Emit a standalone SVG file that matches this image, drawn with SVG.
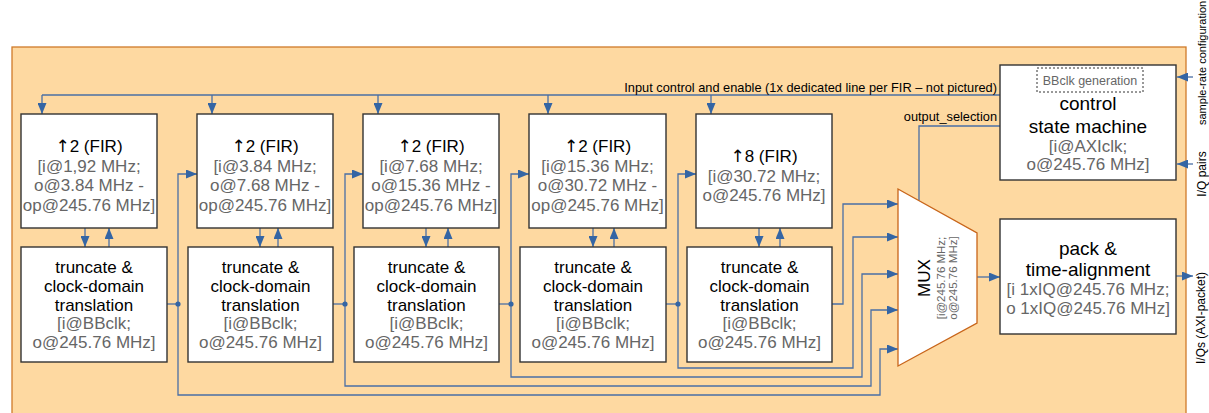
<svg xmlns="http://www.w3.org/2000/svg" width="1209" height="413" viewBox="0 0 1209 413">
<defs>
<style>
text{font-family:"Liberation Sans",Arial,sans-serif;}
.box{fill:#ffffff;stroke:#333333;stroke-width:1.4;}
.t{font-size:17px;fill:#000;text-anchor:middle;}
.ar{font-family:"DejaVu Sans",sans-serif;font-weight:normal;}
.tb{font-size:19px;fill:#000;text-anchor:middle;}
.g{font-size:17px;fill:#666666;text-anchor:middle;}
.s{font-size:12px;fill:#000;}
.sl{font-size:12.8px;fill:#000;text-anchor:end;}
.w{fill:none;stroke:#4a6fa5;stroke-width:1.3;}
.a{fill:none;stroke:#4a6fa5;stroke-width:1.3;marker-end:url(#ah);}
.dot{fill:#3465a4;}
</style>
<marker id="ah" viewBox="0 0 11 9" refX="11" refY="4.5" markerWidth="11" markerHeight="9" markerUnits="userSpaceOnUse" orient="auto">
<path d="M0,0 L11,4.5 L0,9 z" fill="#3465a4"/>
</marker>
</defs>
<rect x="12" y="47" width="1174" height="380" fill="#fed9a1" stroke="#cf7a2a" stroke-width="1.3"/>

<g id="connectors">
<path class="w" d="M1000,95 H42"/>
<path class="a" d="M42,95 V114"/>
<path class="a" d="M212,95 V114"/>
<path class="a" d="M378,95 V114"/>
<path class="a" d="M548,95 V114"/>
<path class="a" d="M711,95 V114"/>
<path class="w" d="M1000,126 H919 V200.5"/>
<path class="a" d="M85,228 V247"/><path class="a" d="M109,247 V228"/>
<path class="a" d="M260,228 V247"/><path class="a" d="M278,247 V228"/>
<path class="a" d="M426,228 V247"/><path class="a" d="M448,247 V228"/>
<path class="a" d="M593,228 V247"/><path class="a" d="M614,247 V228"/>
<path class="a" d="M759,228 V247"/><path class="a" d="M780,247 V228"/>
<path class="w" d="M167,304 H178"/>
<path class="w" d="M333,304 H345"/>
<path class="w" d="M499,304 H511"/>
<path class="w" d="M666,304 H678"/>
<path class="a" d="M178,304 V174 H197"/>
<path class="a" d="M345,304 V174 H363"/>
<path class="a" d="M511,304 V174 H529"/>
<path class="a" d="M678,304 V174 H696"/>
<path class="a" d="M832,304 H843 V204 H898"/>
<path class="a" d="M678,304 V368 H853 V237 H898"/>
<path class="a" d="M511,304 V377 H862 V274 H898"/>
<path class="a" d="M345,304 V386 H871 V310 H898"/>
<path class="a" d="M178,304 V395 H880 V349 H898"/>
<circle class="dot" cx="178" cy="304" r="2.6"/>
<circle class="dot" cx="345" cy="304" r="2.6"/>
<circle class="dot" cx="511" cy="304" r="2.6"/>
<circle class="dot" cx="678" cy="304" r="2.6"/>
<path class="a" d="M977,277 H1000"/>
<path class="a" d="M1193,77 H1177"/>
<path class="a" d="M1193,164 H1177"/>
<path class="a" d="M1176,276 H1193"/>
</g>

<g id="fir1">
<rect class="box" x="21" y="114" width="136" height="114"/>
<text class="t" x="89" y="152"><tspan class="ar">↑</tspan>2 (FIR)</text>
<text class="g" x="89" y="171.5">[i@1,92 MHz;</text>
<text class="g" x="89" y="191">o@3.84 MHz -</text>
<text class="g" x="89" y="210.5">op@245.76 MHz]</text>
</g>
<g id="fir2">
<rect class="box" x="197" y="114" width="136" height="114"/>
<text class="t" x="265" y="152"><tspan class="ar">↑</tspan>2 (FIR)</text>
<text class="g" x="265" y="171.5">[i@3.84 MHz;</text>
<text class="g" x="265" y="191">o@7.68 MHz -</text>
<text class="g" x="265" y="210.5">op@245.76 MHz]</text>
</g>
<g id="fir3">
<rect class="box" x="363" y="114" width="136" height="114"/>
<text class="t" x="431" y="152"><tspan class="ar">↑</tspan>2 (FIR)</text>
<text class="g" x="431" y="171.5">[i@7.68 MHz;</text>
<text class="g" x="431" y="191">o@15.36 MHz -</text>
<text class="g" x="431" y="210.5">op@245.76 MHz]</text>
</g>
<g id="fir4">
<rect class="box" x="529" y="114" width="137" height="114"/>
<text class="t" x="597.5" y="152"><tspan class="ar">↑</tspan>2 (FIR)</text>
<text class="g" x="597.5" y="171.5">[i@15.36 MHz;</text>
<text class="g" x="597.5" y="191">o@30.72 MHz -</text>
<text class="g" x="597.5" y="210.5">op@245.76 MHz]</text>
</g>
<g id="fir5">
<rect class="box" x="696" y="114" width="136" height="114"/>
<text class="t" x="764" y="162"><tspan class="ar">↑</tspan>8 (FIR)</text>
<text class="g" x="764" y="182">[i@30.72 MHz;</text>
<text class="g" x="764" y="201">o@245.76 MHz]</text>
</g>

<g id="trunc1">
<rect class="box" x="21" y="247" width="146" height="115"/>
<text class="t" x="94" y="273">truncate &amp;</text>
<text class="t" x="94" y="292">clock-domain</text>
<text class="t" x="94" y="310.5">translation</text>
<text class="g" x="94" y="329">[i@BBclk;</text>
<text class="g" x="94" y="348">o@245.76 MHz]</text>
</g>
<g id="trunc2">
<rect class="box" x="188" y="247" width="145" height="115"/>
<text class="t" x="260.5" y="273">truncate &amp;</text>
<text class="t" x="260.5" y="292">clock-domain</text>
<text class="t" x="260.5" y="310.5">translation</text>
<text class="g" x="260.5" y="329">[i@BBclk;</text>
<text class="g" x="260.5" y="348">o@245.76 MHz]</text>
</g>
<g id="trunc3">
<rect class="box" x="354" y="247" width="145" height="115"/>
<text class="t" x="426.5" y="273">truncate &amp;</text>
<text class="t" x="426.5" y="292">clock-domain</text>
<text class="t" x="426.5" y="310.5">translation</text>
<text class="g" x="426.5" y="329">[i@BBclk;</text>
<text class="g" x="426.5" y="348">o@245.76 MHz]</text>
</g>
<g id="trunc4">
<rect class="box" x="520" y="247" width="146" height="115"/>
<text class="t" x="593" y="273">truncate &amp;</text>
<text class="t" x="593" y="292">clock-domain</text>
<text class="t" x="593" y="310.5">translation</text>
<text class="g" x="593" y="329">[i@BBclk;</text>
<text class="g" x="593" y="348">o@245.76 MHz]</text>
</g>
<g id="trunc5">
<rect class="box" x="687" y="247" width="145" height="115"/>
<text class="t" x="759.5" y="273">truncate &amp;</text>
<text class="t" x="759.5" y="292">clock-domain</text>
<text class="t" x="759.5" y="310.5">translation</text>
<text class="g" x="759.5" y="329">[i@BBclk;</text>
<text class="g" x="759.5" y="348">o@245.76 MHz]</text>
</g>

<g id="mux">
<path d="M898,189 L977,233 L977,323 L898,366 z" fill="#ffffff" stroke="#c8651a" stroke-width="1.3"/>
<text transform="translate(930,278) rotate(-90)" style="font-size:17px;text-anchor:middle;fill:#000">MUX</text>
<text transform="translate(945,278) rotate(-90)" style="font-size:11.5px;text-anchor:middle;fill:#666666">[i@245.76 MHz;</text>
<text transform="translate(957,278) rotate(-90)" style="font-size:11.5px;text-anchor:middle;fill:#666666">o@245.76 MHz]</text>
</g>

<g id="control">
<rect class="box" x="1000" y="65" width="176" height="115"/>
<rect x="1037" y="68" width="106" height="24" fill="none" stroke="#333333" stroke-width="1" stroke-dasharray="2,2"/>
<text x="1090" y="85" style="font-size:12.5px;fill:#666666;text-anchor:middle">BBclk generation</text>
<text class="tb" x="1088" y="110">control</text>
<text class="tb" x="1088" y="133">state machine</text>
<text class="g" x="1088" y="152">[i@AXIclk;</text>
<text class="g" x="1088" y="170">o@245.76 MHz]</text>
</g>

<g id="pack">
<rect class="box" x="1000" y="219" width="176" height="115"/>
<text class="tb" x="1088" y="255">pack &amp;</text>
<text class="tb" x="1088" y="276">time-alignment</text>
<text class="g" x="1088" y="295">[i 1xIQ@245.76 MHz;</text>
<text class="g" x="1088" y="314">o 1xIQ@245.76 MHz]</text>
</g>

<g id="labels">
<text class="sl" x="997" y="92">Input control and enable (1x dedicated line per FIR – not pictured)</text>
<text class="sl" x="997" y="121">output_selection</text>
<text transform="translate(1206,125) rotate(-90)" style="font-size:11px;fill:#000">sample-rate configuration</text>
<text class="s" transform="translate(1206,174) rotate(-90)" text-anchor="middle">I/Q pairs</text>
<text class="s" transform="translate(1205,318) rotate(-90)" text-anchor="middle">I/Qs (AXI-packet)</text>
</g>
</svg>
